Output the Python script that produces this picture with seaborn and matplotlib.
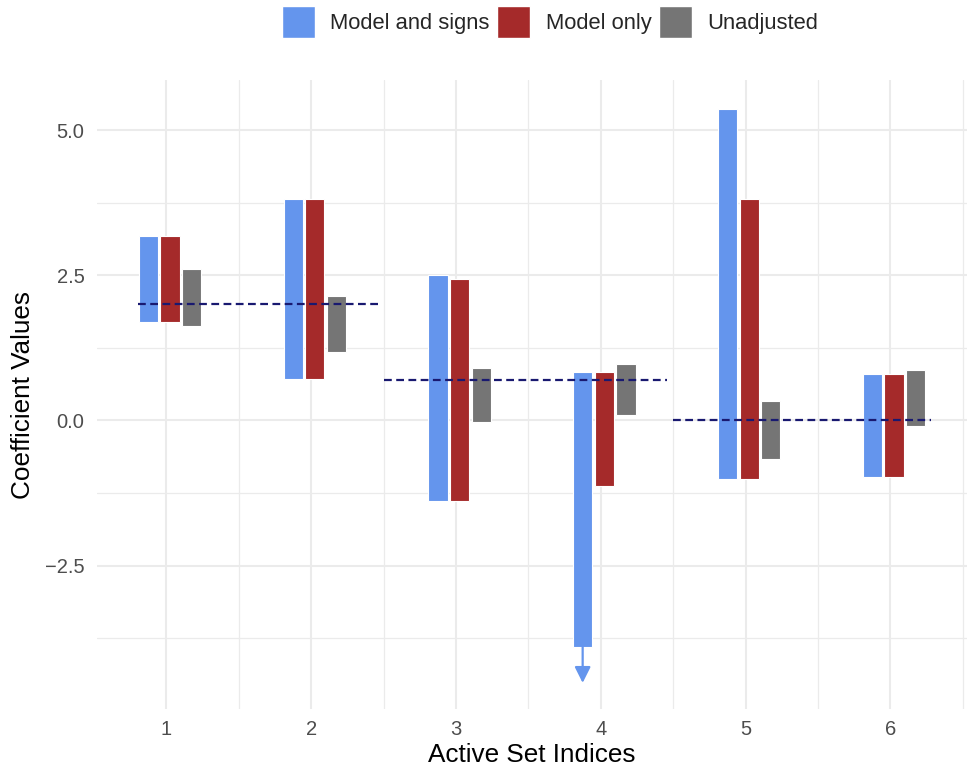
import numpy as np
import pandas as pd
import matplotlib
matplotlib.use('Agg')
import matplotlib.pyplot as plt
import seaborn as sns
from matplotlib.patches import Patch

# data
indices = [1, 2, 3, 4, 5, 6]
series = ['Model and signs', 'Model only', 'Unadjusted']
colors = ['#6495ED', '#A52A2A', '#757575']

signs_lower = [1.69, 0.71, -1.39, -3.90, -1.01, -0.97]
signs_upper = [3.17, 3.81, 2.50, 0.84, 5.37, 0.80]
model_lower = [1.69, 0.71, -1.39, -1.13, -1.01, -0.97]
model_upper = [3.17, 3.81, 2.43, 0.84, 3.82, 0.80]
unadj_lower = [1.63, 1.18, -0.02, 0.10, -0.67, -0.10]
unadj_upper = [2.60, 2.14, 0.91, 0.98, 0.33, 0.87]

# lower bound of index 4 (model and signs) is unbounded -> arrow
arrow_index = 4
arrow_end = -4.52

# true coefficient values (dashed segments)
true_start = [0.80, 2.50, 4.50]
true_end = [2.49, 4.46, 6.28]
true_value = [2.0, 0.7, 0.0]

ytick_vals = [-2.5, 0.0, 2.5, 5.0]
ytick_labels = ['\u22122.5', '0.0', '2.5', '5.0']

offsets = [-0.125, 0.025, 0.175]
bar_w = 0.133

rows = []
for s, lo, up in zip(series, [signs_lower, model_lower, unadj_lower],
                     [signs_upper, model_upper, unadj_upper]):
    for i, l, u in zip(indices, lo, up):
        rows.append({'series': s, 'index': i, 'lower': l, 'upper': u})
df = pd.DataFrame(rows)
df['height'] = df['upper'] - df['lower']

sns.set_theme(style='white')
plt.rcParams['font.family'] = ['Liberation Sans', 'DejaVu Sans']

fig = plt.figure(figsize=(9.67, 7.71), dpi=100)
ax = fig.add_axes([0.1003, 0.0804, 0.8997, 0.8156])

for s, c, off in zip(series, colors, offsets):
    sub = df[df['series'] == s].sort_values('index').copy()
    sub['pos'] = sub['index'] + off
    sns.barplot(data=sub, x='pos', y='height', bottom=sub['lower'].values,
                native_scale=True, width=bar_w, color=c, saturation=1,
                edgecolor='white', linewidth=0.8, errorbar=None, ax=ax)

# arrow for the unbounded interval
a = df[(df['series'] == series[0]) & (df['index'] == arrow_index)].iloc[0]
ax.annotate('', xy=(a['index'] + offsets[0], arrow_end),
            xytext=(a['index'] + offsets[0], a['lower']),
            arrowprops=dict(arrowstyle='-|>', color=colors[0], lw=1.6,
                            mutation_scale=24, shrinkA=0, shrinkB=0))

ax.hlines(true_value, true_start, true_end, colors='#191970',
          linestyles=(0, (3.5, 2)), linewidth=1.6, zorder=5)

ax.set_xlim(0.52, 6.53)
ax.set_ylim(-4.97, 5.86)
ax.set_xticks(indices)
ax.set_xticklabels([str(i) for i in indices])
ax.set_xticks([i + 0.5 for i in indices], minor=True)
ax.set_yticks(ytick_vals)
ax.set_yticklabels(ytick_labels)
ax.set_yticks([-3.75, -1.25, 1.25, 3.75], minor=True)
ax.set_axisbelow(True)
ax.grid(which='major', color='#EBEBEB', linewidth=1.5)
ax.grid(which='minor', color='#EBEBEB', linewidth=0.9)
ax.tick_params(which='both', length=0)
ax.tick_params(axis='both', labelsize=14.5, labelcolor='#4D4D4D')
ax.tick_params(axis='x', pad=8)
ax.tick_params(axis='y', pad=9)
for sp in ax.spines.values():
    sp.set_visible(False)

ax.set_xlabel('Active Set Indices', fontsize=18.8, color='black', labelpad=3)
ax.set_ylabel('Coefficient Values', fontsize=18.8, color='black', labelpad=7)

handles = [Patch(facecolor=c, edgecolor='white', label=s) for s, c in zip(series, colors)]
fig.legend(handles=handles, loc='center', bbox_to_anchor=(0.5688, 0.9715), ncol=3,
           frameon=False, fontsize=15.8, handlelength=1.5, handleheight=1.87,
           handletextpad=0.72, columnspacing=0.33)

fig.savefig('out.png', dpi=100)
